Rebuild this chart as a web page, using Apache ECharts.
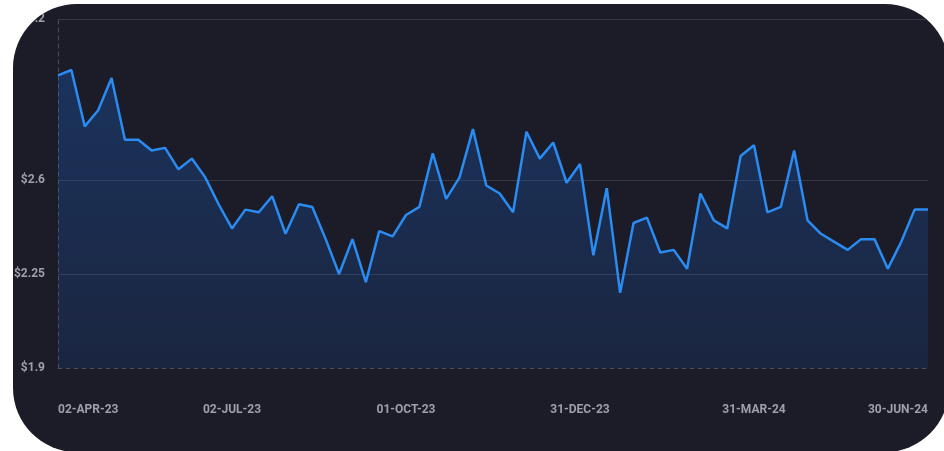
<!DOCTYPE html>
<html>
<head>
<meta charset="utf-8">
<script src="https://cdn.jsdelivr.net/npm/echarts@6/dist/echarts.min.js"></script>
<style>
  html, body { margin: 0; padding: 0; background: #ffffff; overflow: hidden; width: 944px; height: 451px; }
  #card {
    position: absolute; left: 13px; top: 4px; width: 936px; height: 448px;
    background: #1b1c27; border-radius: 64px; overflow: hidden;
  }
  #chart { position: absolute; left: -13px; top: -4px; width: 944px; height: 451px; }
</style>
</head>
<body>
<div id="card"><div id="chart"></div></div>
<script>
// Weekly closing prices
const weeks = [
  '02-APR-23','09-APR-23','16-APR-23','23-APR-23','30-APR-23',
  '07-MAY-23','14-MAY-23','21-MAY-23','28-MAY-23',
  '04-JUN-23','11-JUN-23','18-JUN-23','25-JUN-23',
  '02-JUL-23','09-JUL-23','16-JUL-23','23-JUL-23','30-JUL-23',
  '06-AUG-23','13-AUG-23','20-AUG-23','27-AUG-23',
  '03-SEP-23','10-SEP-23','17-SEP-23','24-SEP-23',
  '01-OCT-23','08-OCT-23','15-OCT-23','22-OCT-23','29-OCT-23',
  '05-NOV-23','12-NOV-23','19-NOV-23','26-NOV-23',
  '03-DEC-23','10-DEC-23','17-DEC-23','24-DEC-23','31-DEC-23',
  '07-JAN-24','14-JAN-24','21-JAN-24','28-JAN-24',
  '04-FEB-24','11-FEB-24','18-FEB-24','25-FEB-24',
  '03-MAR-24','10-MAR-24','17-MAR-24','24-MAR-24','31-MAR-24',
  '07-APR-24','14-APR-24','21-APR-24','28-APR-24',
  '05-MAY-24','12-MAY-24','19-MAY-24','26-MAY-24',
  '02-JUN-24','09-JUN-24','16-JUN-24','23-JUN-24','30-JUN-24'
];

const prices = [
  2.99, 3.01, 2.80, 2.86, 2.98,
  2.75, 2.75, 2.71, 2.72,
  2.64, 2.68, 2.61, 2.51,
  2.42, 2.49, 2.48, 2.54, 2.40,
  2.51, 2.50, 2.38, 2.25,
  2.38, 2.22, 2.41, 2.39,
  2.47, 2.50, 2.70, 2.53, 2.61,
  2.79, 2.58, 2.55, 2.48,
  2.78, 2.68, 2.74, 2.59, 2.66,
  2.32, 2.57, 2.18, 2.44,
  2.46, 2.33, 2.34, 2.27,
  2.55, 2.45, 2.42, 2.69, 2.73,
  2.48, 2.50, 2.71, 2.45,
  2.40, 2.37, 2.34, 2.38,
  2.38, 2.27, 2.37, 2.49, 2.49
];

const priceTicks = [1.9, 2.25, 2.6, 3.2];

const chart = echarts.init(document.getElementById('chart'), null, { renderer: 'canvas' });

const labelFont = '"Roboto", "Liberation Sans", sans-serif';
const axisGrey = '#4a4d5a';

chart.setOption({
  backgroundColor: 'transparent',
  animation: false,
  grid: { left: 58, right: 16, top: 19, bottom: 83, containLabel: false },
  xAxis: {
    type: 'category',
    data: weeks,
    boundaryGap: false,
    axisLine: { show: true, lineStyle: { color: axisGrey, type: [4, 4], width: 1 } },
    axisTick: { show: false },
    splitLine: { show: false },
    axisLabel: {
      interval: 12,
      margin: 36,
      color: '#9da0aa',
      fontFamily: labelFont,
      fontSize: 12,
      fontWeight: 'bold',
      alignMinLabel: 'left',
      alignMaxLabel: 'right'
    }
  },
  yAxis: {
    type: 'value',
    min: 1.9,
    max: 3.2,
    axisLine: { show: true, lineStyle: { color: axisGrey, type: [4, 4], width: 1 } },
    axisTick: { show: false, customValues: priceTicks },
    splitLine: {
      show: true,
      showMinLine: false,
      lineStyle: { color: '#363845', width: 1 }
    },
    axisLabel: {
      customValues: priceTicks,
      margin: 13,
      color: '#9da0aa',
      fontFamily: labelFont,
      fontSize: 12,
      fontWeight: 'bold',
      formatter: v => '$' + v
    }
  },
  series: [{
    type: 'line',
    data: prices,
    showSymbol: false,
    smooth: false,
    lineStyle: { color: '#2a8cf2', width: 2.5 },
    itemStyle: { color: '#2a8cf2' },
    areaStyle: {
      color: new echarts.graphic.LinearGradient(0, 0, 0, 1, [
        { offset: 0, color: 'rgba(28,105,215,0.44)' },
        { offset: 1, color: 'rgba(28,95,205,0.22)' }
      ]),
      origin: 'start'
    }
  }]
});
</script>
</body>
</html>
